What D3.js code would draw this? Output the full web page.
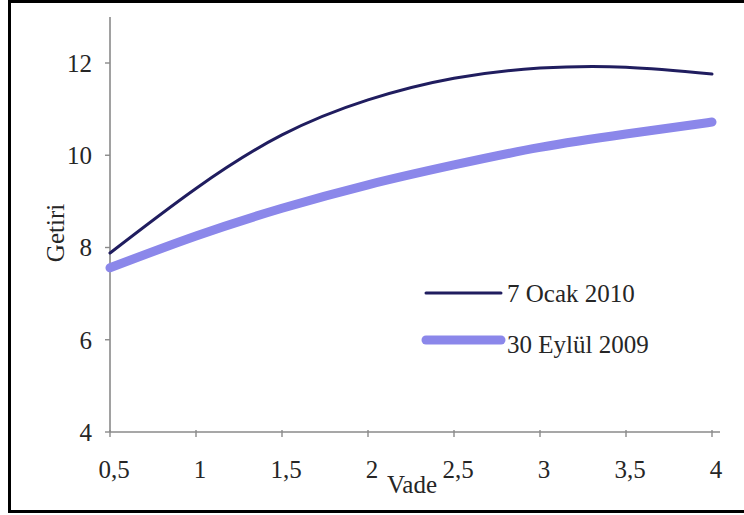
<!DOCTYPE html>
<html>
<head>
<meta charset="utf-8">
<script src="https://cdn.jsdelivr.net/npm/d3@7/dist/d3.min.js"></script>
<style>
  html, body { margin: 0; padding: 0; background: #fff; }
  svg { display: block; }
  text { font-family: "Liberation Serif", "Times New Roman", serif; fill: #262626; }
</style>
</head>
<body>
<svg id="chart" width="744" height="515"></svg>
<script>
// Maturity (years) and yields (%) for the two curve dates
const vade = [0.5, 1, 1.5, 2, 2.5, 3, 3.5, 4];
const ocak2010 = [7.88, 9.28, 10.44, 11.2, 11.67, 11.89, 11.91, 11.76];
const eylul2009 = [7.56, 8.25, 8.85, 9.36, 9.79, 10.17, 10.46, 10.72];
const xTicks = [0.5, 1, 1.5, 2, 2.5, 3, 3.5, 4];
const yTicks = [4, 6, 8, 10, 12];
const seriesNames = ["7 Ocak 2010", "30 Eylül 2009"];

const svg = d3.select("#chart");
const fontSize = 25;
const axisColor = "#8a8a8a";

// Outer frame
svg.append("rect")
  .attr("x", 9.5).attr("y", 1.5)
  .attr("width", 760).attr("height", 510)
  .attr("fill", "none").attr("stroke", "#000").attr("stroke-width", 3);

const x = d3.scaleLinear().domain([0.5, 4]).range([110, 712]);
const y = d3.scaleLinear().domain([4, 12]).range([432, 63]);

const comma = d => String(d).replace(".", ",");

// Y axis
const yAxis = svg.append("g").attr("transform", `translate(${x(0.5)},0)`);
yAxis.append("line")
  .attr("x1", 0).attr("x2", 0)
  .attr("y1", y(4)).attr("y2", y(13))
  .attr("stroke", axisColor).attr("stroke-width", 1.6);
yAxis.selectAll(".yt").data(yTicks).enter().append("line")
  .attr("x1", -5).attr("x2", 0)
  .attr("y1", d => y(d)).attr("y2", d => y(d))
  .attr("stroke", axisColor).attr("stroke-width", 1.4);
yAxis.selectAll(".yl").data(yTicks).enter().append("text")
  .attr("x", -18).attr("y", d => y(d))
  .attr("dy", "0.35em")
  .attr("text-anchor", "end")
  .attr("font-size", fontSize)
  .text(comma);

// X axis
const xAxis = svg.append("g").attr("transform", `translate(0,${y(4)})`);
xAxis.append("line")
  .attr("x1", x(0.5)).attr("x2", x(4) + 8)
  .attr("y1", 0).attr("y2", 0)
  .attr("stroke", axisColor).attr("stroke-width", 1.6);
xAxis.selectAll(".xt").data(xTicks).enter().append("line")
  .attr("x1", d => x(d)).attr("x2", d => x(d))
  .attr("y1", -2).attr("y2", 5)
  .attr("stroke", axisColor).attr("stroke-width", 1.4);
xAxis.selectAll(".xl").data(xTicks).enter().append("text")
  .attr("x", d => x(d) + 4).attr("y", 46)
  .attr("text-anchor", "middle")
  .attr("font-size", fontSize)
  .text(comma);

// Axis titles
svg.append("text")
  .attr("x", 412).attr("y", 493)
  .attr("text-anchor", "middle")
  .attr("font-size", fontSize)
  .text("Vade");
svg.append("text")
  .attr("transform", "translate(64,233) rotate(-90)")
  .attr("text-anchor", "middle")
  .attr("font-size", fontSize)
  .text("Getiri");

// Smooth yield curves
const line = d3.line()
  .x((d, i) => x(vade[i]))
  .y(d => y(d))
  .curve(d3.curveNatural);

const styles = [
  { data: ocak2010, color: "#201d5f", width: 3 },
  { data: eylul2009, color: "#8b87ea", width: 9 }
];

svg.append("path")
  .attr("d", line(eylul2009))
  .attr("fill", "none")
  .attr("stroke", styles[1].color)
  .attr("stroke-width", styles[1].width)
  .attr("stroke-linecap", "round");
svg.append("path")
  .attr("d", line(ocak2010))
  .attr("fill", "none")
  .attr("stroke", styles[0].color)
  .attr("stroke-width", styles[0].width)
  .attr("stroke-linecap", "round");

// Legend
const legendRows = [
  { y: 293, textY: 302 },
  { y: 340, textY: 353 }
];
seriesNames.forEach((name, i) => {
  svg.append("line")
    .attr("x1", 426).attr("x2", 501)
    .attr("y1", legendRows[i].y).attr("y2", legendRows[i].y)
    .attr("stroke", styles[i].color)
    .attr("stroke-width", styles[i].width)
    .attr("stroke-linecap", "round");
  svg.append("text")
    .attr("x", 507).attr("y", legendRows[i].textY)
    .attr("font-size", fontSize)
    .text(name);
});
</script>
</body>
</html>
